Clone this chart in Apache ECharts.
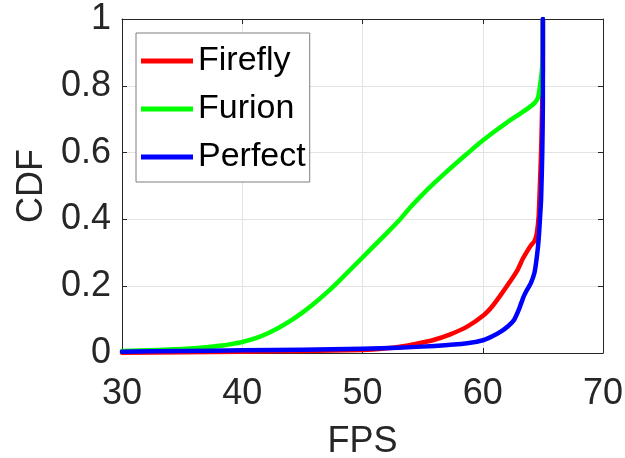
<!DOCTYPE html>
<html>
<head>
<meta charset="utf-8">
<script src="https://cdn.jsdelivr.net/npm/echarts@6/dist/echarts.min.js"></script>
<style>
  html, body { margin: 0; padding: 0; background: #fff; }
  #chart { width: 625px; height: 458px; }
</style>
</head>
<body>
<div id="chart"></div>
<script>
// CDF of frame rate for three rendering schemes
const seriesNames = ['Firefly', 'Furion', 'Perfect'];

const fireflyFps = [30, 35, 40, 45, 50, 52, 53.1, 54.5, 55.9, 57.3, 58.7, 60.1, 60.8, 61.5, 62.2, 62.9, 63.3, 63.7, 64.0, 64.3, 64.5, 64.65, 64.75, 64.85, 64.95, 65, 65];
const fireflyCdf = [0.001, 0.002, 0.004, 0.006, 0.009, 0.014, 0.019, 0.028, 0.039, 0.056, 0.079, 0.114, 0.14, 0.174, 0.21, 0.249, 0.28, 0.305, 0.322, 0.335, 0.36, 0.41, 0.5, 0.6, 0.75, 0.85, 1.0];

const furionFps = [30, 33, 35, 37, 38.5, 39.3, 40, 41, 42, 43, 44, 45, 46, 47, 48, 49, 50, 51, 52, 53, 54, 55, 56, 57, 58, 59, 60, 61, 62, 63, 63.7, 64.3, 64.6, 64.8, 64.95, 65, 65];
const furionCdf = [0.006, 0.009, 0.012, 0.017, 0.023, 0.028, 0.033, 0.043, 0.057, 0.075, 0.096, 0.121, 0.149, 0.18, 0.214, 0.25, 0.286, 0.322, 0.358, 0.395, 0.437, 0.475, 0.51, 0.543, 0.575, 0.606, 0.636, 0.664, 0.69, 0.714, 0.731, 0.748, 0.765, 0.81, 0.86, 0.9, 1.0];

const perfectFps = [30, 35, 40, 45, 50, 53, 56, 58.7, 60.1, 60.8, 61.5, 62.1, 62.6, 63.0, 63.4, 63.7, 64.0, 64.3, 64.5, 64.65, 64.75, 64.85, 64.95, 65, 65];
const perfectCdf = [0.004, 0.006, 0.008, 0.01, 0.013, 0.016, 0.021, 0.029, 0.039, 0.05, 0.064, 0.08, 0.099, 0.13, 0.169, 0.19, 0.209, 0.24, 0.288, 0.34, 0.398, 0.458, 0.6, 0.75, 1.0];

const xTicks = [30, 40, 50, 60, 70];
const yTicks = [0, 0.2, 0.4, 0.6, 0.8, 1];

const lineColors = ['#ff0000', '#00ff00', '#0000ff'];
const FONT = '"Liberation Sans", Arial, Helvetica, sans-serif';
const INK = '#262626';

function pairs(xs, ys) {
  return xs.map((x, i) => [x, ys[i]]);
}

const chart = echarts.init(document.getElementById('chart'), null, { renderer: 'canvas' });

const tickStyle = { show: true, inside: true, length: 5, lineStyle: { color: INK, width: 1 } };
const lineStyleAxis = { show: true, onZero: false, lineStyle: { color: INK, width: 1 } };

chart.setOption({
  backgroundColor: '#ffffff',
  animation: false,
  textStyle: { fontFamily: FONT },
  grid: { left: 122, right: 22, top: 19, bottom: 105, containLabel: false, outerBoundsMode: 'none' },
  legend: {
    data: seriesNames,
    orient: 'vertical',
    left: 136,
    top: 33,
    icon: 'rect',
    itemWidth: 52,
    itemHeight: 5,
    itemGap: 8,
    padding: [8, 4, 5, 5],
    borderColor: '#7f7f7f',
    borderWidth: 1,
    backgroundColor: '#ffffff',
    textStyle: { fontSize: 34, color: '#000', fontFamily: FONT, lineHeight: 40 }
  },
  xAxis: [
    {
      type: 'value', position: 'bottom',
      min: xTicks[0], max: xTicks[xTicks.length - 1], interval: xTicks[1] - xTicks[0],
      name: 'FPS', nameLocation: 'middle', nameGap: 71,
      nameTextStyle: { fontSize: 36, color: INK, fontFamily: FONT },
      axisLine: lineStyleAxis, axisTick: tickStyle,
      axisLabel: { fontSize: 36, color: INK, margin: 23, fontFamily: FONT },
      splitLine: { show: true, lineStyle: { color: '#e3e3e3', width: 1 } }
    },
    {
      type: 'value', position: 'top',
      min: xTicks[0], max: xTicks[xTicks.length - 1], interval: xTicks[1] - xTicks[0],
      axisLine: lineStyleAxis, axisTick: tickStyle,
      axisLabel: { show: false }, splitLine: { show: false }
    }
  ],
  yAxis: [
    {
      type: 'value', position: 'left',
      min: yTicks[0], max: yTicks[yTicks.length - 1], interval: yTicks[1] - yTicks[0],
      name: 'CDF', nameLocation: 'middle', nameGap: 71, nameRotate: 90,
      nameTextStyle: { fontSize: 36, color: INK, fontFamily: FONT },
      axisLine: lineStyleAxis, axisTick: tickStyle,
      axisLabel: { fontSize: 36, color: INK, margin: 11, fontFamily: FONT,
        formatter: v => String(Math.round(v * 10) / 10) },
      splitLine: { show: true, lineStyle: { color: '#e3e3e3', width: 1 } }
    },
    {
      type: 'value', position: 'right',
      min: yTicks[0], max: yTicks[yTicks.length - 1], interval: yTicks[1] - yTicks[0],
      axisLine: lineStyleAxis, axisTick: tickStyle,
      axisLabel: { show: false }, splitLine: { show: false }
    }
  ],
  series: [
    { name: seriesNames[0], data: pairs(fireflyFps, fireflyCdf) },
    { name: seriesNames[1], data: pairs(furionFps, furionCdf) },
    { name: seriesNames[2], data: pairs(perfectFps, perfectCdf) }
  ].map((s, i) => ({
    type: 'line',
    name: s.name,
    data: s.data,
    xAxisIndex: 0,
    yAxisIndex: 0,
    showSymbol: false,
    symbol: 'none',
    smooth: 0.15,
    clip: true,
    color: lineColors[i],
    lineStyle: { color: lineColors[i], width: 4.5, join: 'round', cap: 'round' },
    z: 3 + i
  }))
});
</script>
</body>
</html>
